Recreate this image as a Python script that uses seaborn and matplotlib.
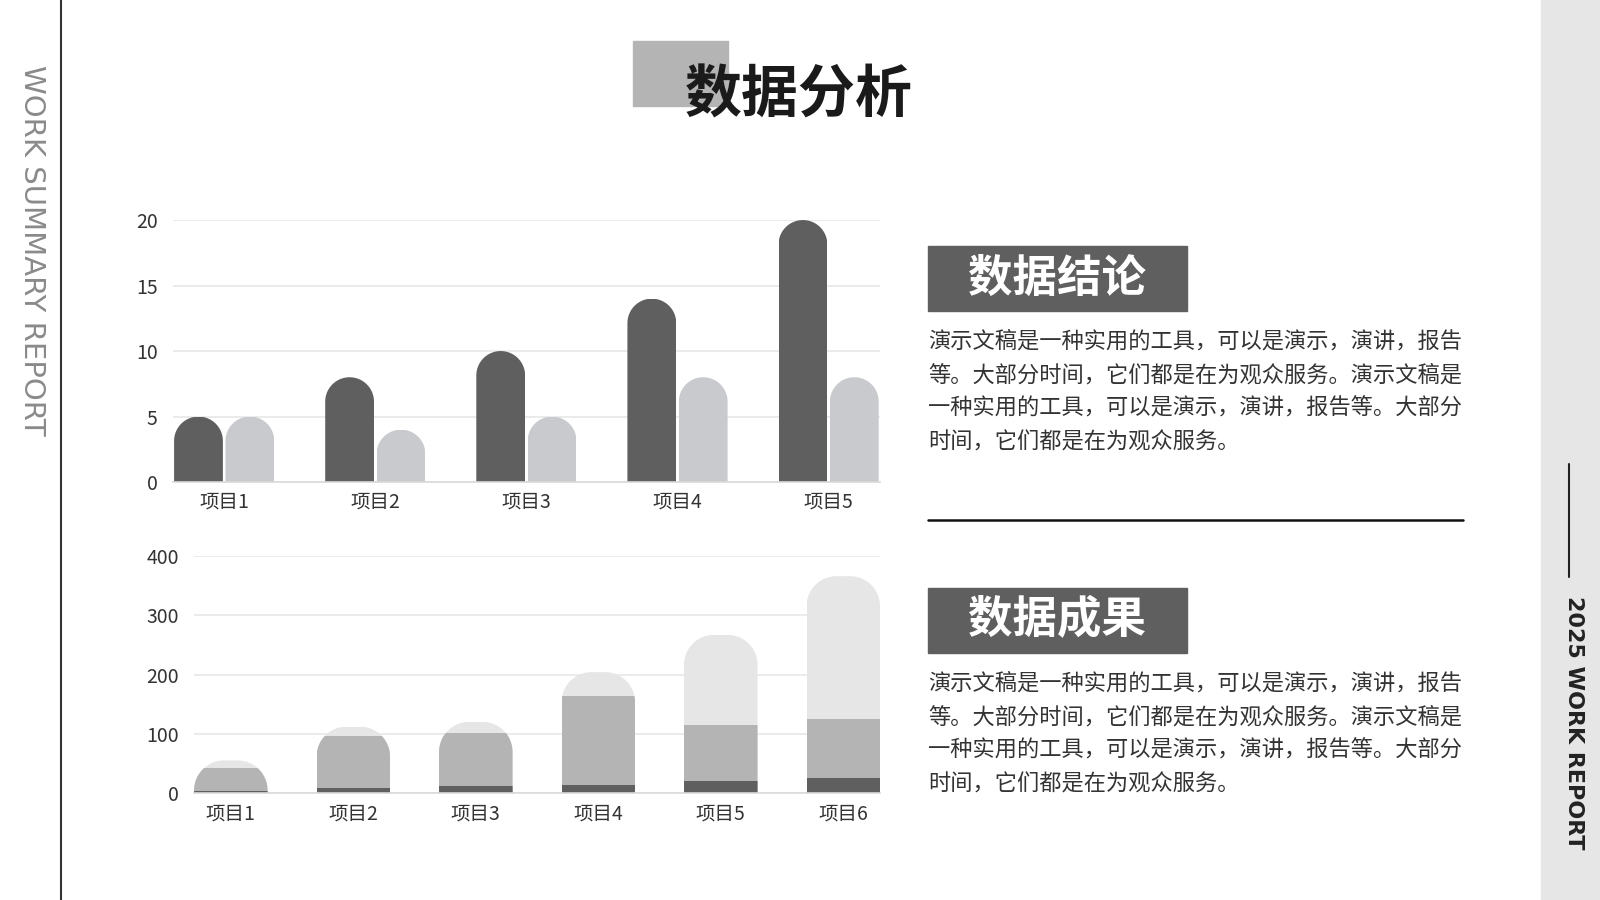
import numpy as np
import pandas as pd
import matplotlib.pyplot as plt
import seaborn as sns
from matplotlib.path import Path
from matplotlib.patches import Rectangle
from matplotlib.lines import Line2D

# data
top_items = ["项目1", "项目2", "项目3", "项目4", "项目5"]
top_series = ["系列1", "系列2"]
top_dark = [5, 8, 10, 14, 20]
top_light = [5, 4, 5, 8, 8]

bottom_items = ["项目1", "项目2", "项目3", "项目4", "项目5", "项目6"]
bottom_a = [3, 9, 11, 13, 21, 25]
bottom_b = [39, 88, 91, 151, 94, 100]
bottom_c = [13, 15, 18, 40, 152, 241]

para_lines = [
    "演示文稿是一种实用的工具，可以是演示，演讲，报告",
    "等。大部分时间，它们都是在为观众服务。演示文稿是",
    "一种实用的工具，可以是演示，演讲，报告等。大部分",
    "时间，它们都是在为观众服务。",
]

DARK = "#5f5f5f"
MID = "#b4b4b4"
LIGHT = "#e6e6e6"
TOP_LIGHT = "#c8cacd"
TXT = "#333333"

sns.set_style("white")
plt.rcParams['font.family'] = ['Noto Sans CJK SC', 'DejaVu Sans']


def rounded_top_path(x0, w, h, rx, ry, n=24):
    ry = min(ry, h)
    t = np.linspace(0, np.pi / 2, n)
    left = np.column_stack([x0 + rx - rx * np.cos(t), h - ry + ry * np.sin(t)])
    right = np.column_stack([x0 + w - rx + rx * np.sin(t), h - ry + ry * np.cos(t)])
    verts = np.vstack([[x0, 0], left, right, [x0 + w, 0], [x0, 0]])
    return Path(verts, closed=True)


def round_bars(ax, r_px):
    # clip every bar (or stack of bars at the same x) to a shape with rounded top corners
    x0, x1 = ax.get_xlim()
    y0, y1 = ax.get_ylim()
    ppx = ax.bbox.width / (x1 - x0)
    ppy = ax.bbox.height / (y1 - y0)
    tops = {}
    for p in ax.patches:
        key = round(p.get_x(), 4)
        tops[key] = max(tops.get(key, 0), p.get_height())
    for p in ax.patches:
        key = round(p.get_x(), 4)
        w = p.get_width()
        r = min(r_px, w * ppx / 2)
        path = rounded_top_path(p.get_x(), w, tops[key], r / ppx, r / ppy)
        p.set_clip_path(path, ax.transData)


def style_axes(ax, yticks, ypad, xpad):
    ax.set_yticks(yticks)
    ax.set_xlabel("")
    ax.set_ylabel("")
    ax.set_axisbelow(True)
    ax.yaxis.grid(True, color="#e8e8e8", lw=1.2)
    ax.xaxis.grid(False)
    for s in ["top", "right", "left"]:
        ax.spines[s].set_visible(False)
    ax.spines["bottom"].set_color("#d9d9d9")
    ax.spines["bottom"].set_linewidth(1.2)
    ax.tick_params(axis="y", length=0, pad=ypad, labelsize=14, labelcolor=TXT)
    ax.tick_params(axis="x", length=0, pad=xpad, labelsize=14, labelcolor=TXT)


fig = plt.figure(figsize=(16, 9), dpi=100)

# ---- top chart: grouped bars
ax1 = fig.add_axes([0.108, 0.4644, 0.442, 0.2911])
df_top = pd.DataFrame({
    "item": top_items * 2,
    "series": [top_series[0]] * len(top_items) + [top_series[1]] * len(top_items),
    "value": top_dark + top_light,
})
sns.barplot(data=df_top, x="item", y="value", hue="series", palette=[DARK, TOP_LIGHT],
            width=0.68, gap=0.05, saturation=1, errorbar=None, legend=False,
            linewidth=0, ax=ax1)
ax1.set_xlim(-0.34, len(top_items) - 1 + 0.34)
ax1.set_ylim(0, 20)
style_axes(ax1, [0, 5, 10, 15, 20], 11, 7)
round_bars(ax1, 100)

# ---- bottom chart: stacked bars (cumulative totals drawn back to front)
ax2 = fig.add_axes([0.1213, 0.1189, 0.4287, 0.2633])
cum_a = np.array(bottom_a)
cum_b = cum_a + np.array(bottom_b)
cum_c = cum_b + np.array(bottom_c)
for vals, col in [(cum_c, LIGHT), (cum_b, MID), (cum_a, DARK)]:
    sns.barplot(x=bottom_items, y=vals, color=col, width=0.6, saturation=1,
                errorbar=None, linewidth=0, ax=ax2)
ax2.set_xlim(-0.3, len(bottom_items) - 1 + 0.3)
ax2.set_ylim(0, 400)
style_axes(ax2, [0, 100, 200, 300, 400], 11, 7.5)
round_bars(ax2, 30)

# ---- decorations
fig.patches.append(Rectangle((0.3956, 0.8822), 0.0594, 0.0722, transform=fig.transFigure,
                             color=MID, zorder=0))
fig.text(0.499, 0.894, "数据分析", ha="center", va="center", fontsize=41,
         fontweight="black", color="#1a1a1a", zorder=2)

fig.lines.append(Line2D([0.038, 0.038], [0, 1], transform=fig.transFigure,
                        color="#333333", lw=1.5))
fig.text(0.02, 0.7222, "WORK SUMMARY REPORT", rotation=-90, ha="center", va="center",
         fontsize=21, color="#8a8a8a", family=["DejaVu Sans"], fontweight="normal")

fig.patches.append(Rectangle((0.963, 0), 0.037, 1, transform=fig.transFigure,
                             color=LIGHT, zorder=0))
fig.lines.append(Line2D([0.9806, 0.9806], [0.3589, 0.4844], transform=fig.transFigure,
                        color="#222222", lw=1.5))
fig.text(0.9835, 0.197, "2025 WORK REPORT", rotation=-90, ha="center", va="center",
         fontsize=16, fontweight="bold", color="#222222", family=["DejaVu Sans"])

# right-hand text blocks
for box_bottom, heading, first_line in [(0.6544, "数据结论", 341), (0.2744, "数据成果", 683)]:
    fig.patches.append(Rectangle((0.58, box_bottom), 0.162, 0.0722,
                                 transform=fig.transFigure, color=DARK, zorder=1))
    fig.text(0.6606, box_bottom + 0.0362, heading, ha="center", va="center",
             fontsize=32, fontweight="black", color="white", zorder=2)
    for i, line in enumerate(para_lines):
        fig.text(0.58, 1 - (first_line + i * 33.7) / 900, line, ha="left", va="center",
                 fontsize=16, color=TXT)

fig.lines.append(Line2D([0.58, 0.9144], [0.4222, 0.4222], transform=fig.transFigure,
                        color="#111111", lw=1.8))

fig.savefig("out.png", dpi=100)
